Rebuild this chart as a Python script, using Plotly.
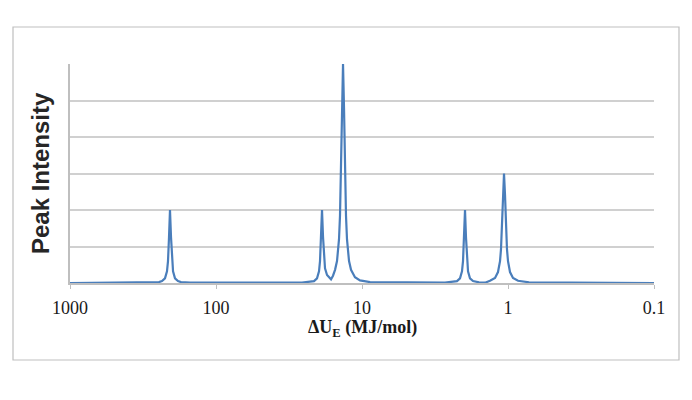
import plotly.graph_objects as go

# Energy axis (MJ/mol) and the intensity, peak by peak
energy = [
    1000,
    283, 245.7, 234.4, 223.6, 216.6, 213.2, 209.8, 206.6, 203.3, 200.1, 196.9, 190.9, 182.1, 173.7, 150.7,
    25.76, 21.32, 20.33, 19.70, 19.39, 18.79, 18.49, 18.20, 17.92, 17.36, 16.30,
    15.80, 15.30, 14.83, 14.37, 14.15, 13.93, 13.71, 13.49, 13.28, 13.07, 12.87, 12.67,
    12.27, 11.89, 11.17, 10.32, 8.81,
    2.70, 2.236, 2.132, 2.066, 2.033, 2.001, 1.970, 1.940, 1.909, 1.879, 1.821, 1.736, 1.437,
    1.580, 1.328, 1.227, 1.171, 1.134, 1.117, 1.099, 1.082, 1.065, 1.048, 1.032, 1.016, 1.0,
    0.969, 0.924, 0.854, 0.718,
    0.1,
]
intensity = [
    0,
    0.004, 0.012, 0.026, 0.063, 0.16, 0.30, 0.63, 1.0, 0.63, 0.30, 0.16, 0.063, 0.026, 0.012, 0.004,
    0.004, 0.026, 0.063, 0.16, 0.30, 1.0, 0.63, 0.33, 0.2, 0.11, 0.05,
    0.1, 0.18, 0.3, 0.6, 0.92, 1.5, 2.4, 3.0, 2.4, 1.5, 0.92, 0.6,
    0.3, 0.18, 0.08, 0.035, 0.012,
    0.004, 0.026, 0.063, 0.16, 0.30, 0.63, 1.0, 0.63, 0.30, 0.16, 0.063, 0.026, 0.004,
    0.01, 0.03, 0.07, 0.15, 0.3, 0.46, 0.75, 1.2, 1.5, 1.2, 0.75, 0.46, 0.3,
    0.15, 0.07, 0.03, 0.01,
    0,
]
tick_values = [1000, 100, 10, 1, 0.1]
tick_labels = ['1000', '100', '10', '1', '0.1']

# points are stored peak by peak, the axis wants them sorted
pairs = sorted(zip(energy, intensity), reverse=True)
xs = [p[0] for p in pairs]
ys = [p[1] for p in pairs]

fig = go.Figure()
fig.add_trace(go.Scatter(
    x=xs, y=ys, mode='lines',
    line=dict(color='#4A7EBB', width=2.2),
    showlegend=False,
))

# the page body adds 8px, margins are shifted to make up for it
fig.update_layout(
    width=692, height=400,
    margin=dict(l=62, r=46, t=56, b=125),
    paper_bgcolor='white',
    plot_bgcolor='white',
    xaxis=dict(
        type='log', range=[3, -1],
        tickvals=tick_values, ticktext=tick_labels,
        ticks='outside', ticklen=4, tickcolor='#BFBFBF',
        ticklabelstandoff=4,
        showgrid=False, zeroline=False,
        showline=True, linecolor='#BFBFBF', linewidth=1.5,
        tickfont=dict(family='Liberation Serif', size=18, color='#1a1a1a'),
    ),
    yaxis=dict(
        range=[0, 3], dtick=0.5,
        showticklabels=False, ticks='',
        showgrid=True, gridcolor='#D0D0D0', gridwidth=1.5,
        zeroline=False,
        showline=True, linecolor='#BFBFBF', linewidth=1.5,
    ),
    annotations=[
        dict(text='<b>Peak Intensity</b>', textangle=-90,
             xref='paper', yref='paper', x=-0.0514, y=0.502,
             xanchor='center', yanchor='middle', showarrow=False,
             font=dict(family='Liberation Sans', size=24, color='#262626')),
        dict(text='<b>ΔU<sub>E</sub> (MJ/mol)</b>',
             xref='paper', yref='paper', x=0.5, y=-0.2055,
             xanchor='center', yanchor='middle', showarrow=False,
             font=dict(family='Liberation Serif', size=18, color='#1a1a1a')),
    ],
    shapes=[
        dict(type='rect', xref='paper', yref='paper',
             x0=-0.0976, x1=1.0428, y0=-0.3516, y1=1.169,
             line=dict(color='#BFBFBF', width=1.2), layer='below'),
    ],
)

fig.write_html('out.html')
